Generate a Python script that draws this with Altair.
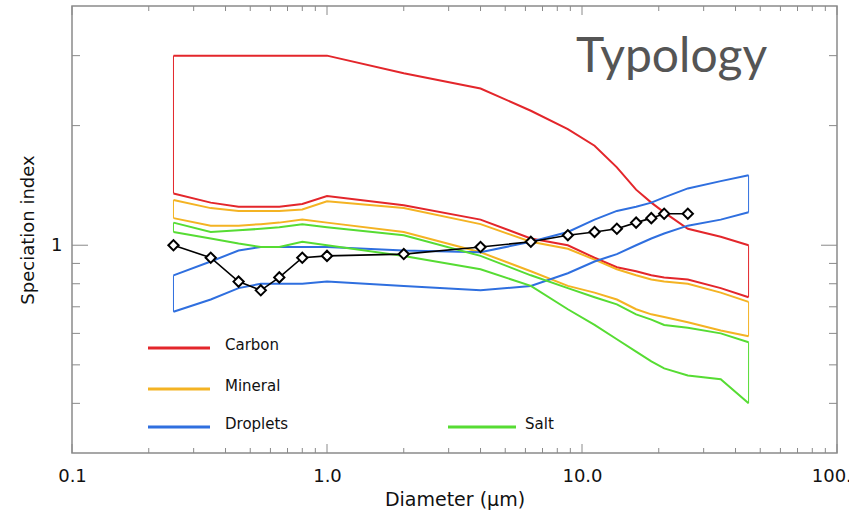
import altair as alt
import pandas as pd

# Diameters (um) at which the typology envelopes are tabulated
diam = [0.25, 0.35, 0.45, 0.55, 0.65, 0.8, 1.0, 2.0, 4.0, 6.3, 8.8,
        11.2, 13.7, 16.3, 18.7, 21.0, 26.0, 35.0, 45.0]

# Upper / lower envelope of the speciation index for each typology
carbon_hi = [3.0, 3.0, 3.0, 3.0, 3.0, 3.0, 3.0, 2.71, 2.48, 2.18, 1.96,
             1.78, 1.57, 1.38, 1.28, 1.21, 1.10, 1.05, 1.00]
carbon_lo = [1.35, 1.28, 1.25, 1.25, 1.25, 1.27, 1.33, 1.26, 1.16, 1.04, 1.00,
             0.93, 0.88, 0.86, 0.84, 0.83, 0.82, 0.78, 0.74]
mineral_hi = [1.30, 1.24, 1.22, 1.22, 1.22, 1.23, 1.29, 1.24, 1.13, 1.02, 0.98,
              0.92, 0.87, 0.84, 0.82, 0.81, 0.80, 0.76, 0.72]
mineral_lo = [1.17, 1.12, 1.12, 1.13, 1.14, 1.16, 1.14, 1.08, 0.96, 0.86, 0.79,
              0.76, 0.73, 0.69, 0.67, 0.66, 0.64, 0.61, 0.59]
droplets_hi = [0.84, 0.91, 0.97, 0.99, 0.99, 0.99, 0.99, 0.97, 0.96, 1.02, 1.08,
               1.16, 1.22, 1.25, 1.28, 1.32, 1.39, 1.45, 1.50]
droplets_lo = [0.68, 0.73, 0.78, 0.80, 0.80, 0.80, 0.81, 0.79, 0.77, 0.79, 0.85,
               0.91, 0.95, 1.00, 1.04, 1.07, 1.12, 1.16, 1.21]
salt_hi = [1.14, 1.08, 1.09, 1.10, 1.11, 1.13, 1.11, 1.06, 0.94, 0.84, 0.78,
           0.74, 0.71, 0.67, 0.65, 0.63, 0.62, 0.60, 0.57]
salt_lo = [1.08, 1.04, 1.01, 0.99, 0.99, 1.02, 1.00, 0.94, 0.87, 0.79, 0.69,
           0.63, 0.58, 0.54, 0.51, 0.49, 0.47, 0.46, 0.40]

# Measured speciation index
obs_diam = [0.25, 0.35, 0.45, 0.55, 0.65, 0.8, 1.0, 2.0, 4.0, 6.3, 8.8,
            11.2, 13.7, 16.3, 18.7, 21.0, 26.0]
obs_index = [1.00, 0.93, 0.81, 0.77, 0.83, 0.93, 0.94, 0.95, 0.99, 1.02, 1.06,
             1.08, 1.10, 1.14, 1.17, 1.20, 1.20]

types = ["Carbon", "Mineral", "Droplets", "Salt"]
colors = ["#e3262b", "#f4b323", "#2f6fdf", "#56dc33"]
envelopes = {
    "Carbon": (carbon_hi, carbon_lo),
    "Mineral": (mineral_hi, mineral_lo),
    "Droplets": (droplets_hi, droplets_lo),
    "Salt": (salt_hi, salt_lo),
}

# Axis ticks (drawn inward, IDL style)
x_major = [0.1, 1.0, 10.0, 100.0]
x_minor = [0.2, 0.3, 0.4, 0.5, 0.6, 0.7, 0.8, 0.9,
           2, 3, 4, 5, 6, 7, 8, 9, 20, 30, 40, 50, 60, 70, 80, 90]
y_major = [1.0]
y_minor = [0.4, 0.5, 0.6, 0.7, 0.8, 0.9, 2.0, 3.0]

W, H = 765, 447
FONT = "DejaVu Sans"
AXIS_GRAY = "#8a8a8a"

rows = []
ends = []
for t in types:
    hi, lo = envelopes[t]
    for d, v in zip(diam, hi):
        rows.append({"type": t, "edge": "upper", "d": d, "v": v})
    for d, v in zip(diam, lo):
        rows.append({"type": t, "edge": "lower", "d": d, "v": v})
    ends.append({"type": t, "d": diam[0], "v": lo[0], "v2": hi[0]})
    ends.append({"type": t, "d": diam[-1], "v": lo[-1], "v2": hi[-1]})
bands = pd.DataFrame(rows)
ends_df = pd.DataFrame(ends)
obs = pd.DataFrame({"d": obs_diam, "v": obs_index})

xs = alt.Scale(type="log", domain=[0.1, 100])
ys = alt.Scale(type="log", domain=[0.3, 4])
x_axis = alt.Axis(values=x_major, format=".1f", ticks=False, domain=False,
                  grid=False, labelFlush=False, labelOverlap=False,
                  labelFontSize=18, labelColor="#111", labelPadding=14,
                  title="Diameter (\u03bcm)", titleFontSize=19,
                  titleFontWeight="normal", titleColor="#111", titlePadding=5)
y_axis = alt.Axis(values=y_major, format=".0f", ticks=False, domain=False,
                  grid=False, labelFontSize=18, labelColor="#111",
                  labelPadding=10, title="Speciation index", titleFontSize=18,
                  titleFontWeight="normal", titleColor="#111", titlePadding=13)


def X(field):
    return alt.X(field, type="quantitative", scale=xs, axis=x_axis)


def Y(field):
    return alt.Y(field, type="quantitative", scale=ys, axis=y_axis)


color = alt.Color("type:N", scale=alt.Scale(domain=types, range=colors), legend=None)

band_lines = alt.Chart(bands).mark_line(strokeWidth=2).encode(
    x=X("d"), y=Y("v"), color=color, detail="edge:N"
)
band_ends = alt.Chart(ends_df).mark_rule(strokeWidth=1).encode(
    x=X("d"), y=Y("v"), y2="v2:Q", color=color
)
obs_line = alt.Chart(obs).mark_line(color="black", strokeWidth=1.6).encode(
    x=X("d"), y=Y("v")
)
obs_pts = alt.Chart(obs).mark_point(
    shape="diamond", filled=True, fill="white", stroke="black",
    strokeWidth=2, size=105, opacity=1
).encode(x=X("d"), y=Y("v"))


def xticks(vals, length):
    df = pd.DataFrame({"d": vals})
    bottom = alt.Chart(df).mark_rule(color=AXIS_GRAY, strokeWidth=1).encode(
        x=X("d"), y=alt.value(H), y2=alt.value(H - length))
    top = alt.Chart(df).mark_rule(color=AXIS_GRAY, strokeWidth=1).encode(
        x=X("d"), y=alt.value(0), y2=alt.value(length))
    return [bottom, top]


def yticks(vals, length):
    df = pd.DataFrame({"v": vals})
    left = alt.Chart(df).mark_rule(color=AXIS_GRAY, strokeWidth=1).encode(
        y=Y("v"), x=alt.value(0), x2=alt.value(length))
    right = alt.Chart(df).mark_rule(color=AXIS_GRAY, strokeWidth=1).encode(
        y=Y("v"), x=alt.value(W), x2=alt.value(W - length))
    return [left, right]


tick_layers = (xticks(x_major, 9) + xticks(x_minor, 5)
               + yticks(y_major, 16) + yticks(y_minor, 8))

# Hand-placed key inside the plot area
legend_items = [
    ("Carbon", colors[0], 76, 138, 342, 153),
    ("Mineral", colors[1], 76, 138, 383, 153),
    ("Droplets", colors[2], 76, 138, 421, 153),
    ("Salt", colors[3], 376, 444, 421, 453),
]
legend_layers = []
for name, col, lx1, lx2, ly, tx in legend_items:
    one = pd.DataFrame({"name": [name]})
    legend_layers.append(
        alt.Chart(one).mark_rule(color=col, strokeWidth=3).encode(
            x=alt.value(lx1), x2=alt.value(lx2), y=alt.value(ly)))
    legend_layers.append(
        alt.Chart(one).mark_text(align="left", baseline="middle", font=FONT,
                                 fontSize=15, color="#111").encode(
            x=alt.value(tx), y=alt.value(ly - 3), text="name:N"))

title_df = pd.DataFrame({"label": ["Typology"]})
title_mark = alt.Chart(title_df).mark_text(
    align="left", baseline="alphabetic", font="Lato", fontSize=48, color="#555555"
).encode(x=alt.value(504), y=alt.value(66), text="label:N")

chart = alt.layer(
    band_lines, band_ends, obs_line, obs_pts,
    *tick_layers, *legend_layers, title_mark
).properties(
    width=W, height=H,
    autosize=alt.AutoSizeParams(type="none"),
    padding={"left": 72, "top": 6, "right": 12, "bottom": 63},
).configure_view(
    stroke=AXIS_GRAY, strokeWidth=1.5
).configure_axis(
    labelFont=FONT, titleFont=FONT
)

chart.save("out.html", embed_options={"renderer": "svg", "actions": False})
